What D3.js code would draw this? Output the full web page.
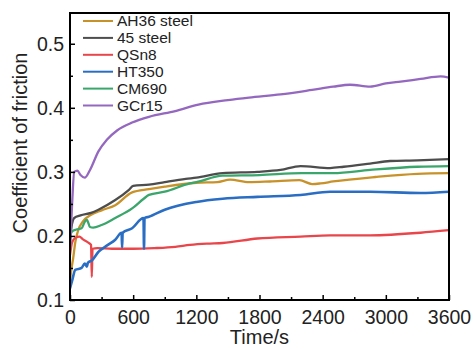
<!DOCTYPE html>
<html>
<head>
<meta charset="utf-8">
<script src="https://cdn.jsdelivr.net/npm/d3@7"></script>
<style>
  body { margin: 0; background: white; }
  text { font-family: "Liberation Sans", Arial, sans-serif; fill: #222; }
</style>
</head>
<body>
<svg id="graph"></svg>
<script>
var GRAPH_W = 473;
var GRAPH_H = 349;
var margin = {top: 13, right: 24, bottom: 49, left: 70};

var names = ["AH36 steel", "45 steel", "QSn8", "HT350", "CM690", "GCr15"];
var colors = ["#c8922a", "#4d4d4d", "#e8464b", "#2a6ec4", "#3aa66b", "#9468bf"];

var xTicks = [0, 600, 1200, 1800, 2400, 3000, 3600];
var yTicks = [0.1, 0.2, 0.3, 0.4, 0.5];

// [time (s), coefficient]
var ah36 = [[0,0.13],[15,0.15],[30,0.165],[50,0.19],[80,0.21],[120,0.222],[200,0.233],[300,0.24],
  [430,0.248],[590,0.268],[750,0.273],[900,0.277],[1200,0.283],[1400,0.284],[1520,0.288],[1700,0.284],
  [1900,0.285],[2180,0.287],[2300,0.281],[2380,0.282],[2500,0.285],[2900,0.292],[3300,0.297],[3600,0.298]];
var s45 = [[0,0.19],[15,0.215],[40,0.228],[100,0.232],[200,0.236],[270,0.241],[430,0.256],[560,0.272],
  [600,0.278],[750,0.28],[900,0.284],[1100,0.289],[1200,0.291],[1450,0.298],[1780,0.30],[2000,0.303],
  [2190,0.309],[2470,0.306],[2600,0.308],[2850,0.313],[3040,0.317],[3300,0.318],[3600,0.32]];
var qsn8 = [[0,0.17],[20,0.19],[50,0.197],[90,0.199],[120,0.195],[170,0.19],[200,0.186],[207,0.136],
  [214,0.18],[260,0.181],[400,0.18],[600,0.18],[800,0.181],[1000,0.183],[1140,0.186],[1300,0.188],
  [1450,0.189],[1780,0.196],[2190,0.199],[2470,0.201],[2850,0.201],[3330,0.205],[3600,0.209]];
var ht350 = [[0,0.118],[20,0.13],[50,0.147],[110,0.15],[140,0.157],[160,0.152],[170,0.158],[210,0.162],
  [270,0.175],[360,0.186],[430,0.194],[490,0.205],[495,0.182],[500,0.205],[590,0.212],[698,0.228],
  [703,0.18],[708,0.228],[750,0.23],[900,0.241],[1200,0.253],[1450,0.258],[1780,0.261],[2190,0.264],
  [2470,0.269],[2850,0.269],[3330,0.267],[3600,0.269]];
var cm690 = [[0,0.2],[20,0.207],[60,0.21],[110,0.212],[140,0.222],[160,0.225],[190,0.214],[220,0.213],
  [300,0.217],[430,0.228],[590,0.243],[700,0.258],[750,0.264],[900,0.269],[1140,0.282],[1200,0.284],
  [1450,0.294],[1800,0.295],[2200,0.298],[2500,0.298],[2850,0.303],[3300,0.308],[3600,0.309]];
var gcr15 = [[0,0.18],[20,0.25],[40,0.30],[70,0.302],[100,0.295],[140,0.291],[190,0.303],[270,0.332],
  [350,0.35],[450,0.365],[590,0.377],[750,0.386],[1000,0.395],[1220,0.405],[1500,0.412],[1700,0.416],
  [2000,0.421],[2300,0.428],[2500,0.433],[2660,0.436],[2850,0.433],[3000,0.438],[3140,0.441],
  [3330,0.445],[3520,0.449],[3600,0.447]];

var series = [ah36, s45, qsn8, ht350, cm690, gcr15];

var svg = d3.select("#graph")
  .attr("width", GRAPH_W)
  .attr("height", GRAPH_H);

svg.append("rect")
  .attr("width", "100%")
  .attr("height", "100%")
  .attr("fill", "white");

var x = d3.scaleLinear()
  .domain([0, 3600])
  .range([margin.left, GRAPH_W - margin.right]);

var y = d3.scaleLinear()
  .domain([0.1, 0.548])
  .range([GRAPH_H - margin.bottom, margin.top]);

var line = d3.line()
  .curve(d3.curveMonotoneX)
  .x(d => x(d[0]))
  .y(d => y(d[1]));

// clip so the lines stay inside the frame
svg.append("clipPath").attr("id", "clip")
  .append("rect")
  .attr("x", margin.left).attr("y", margin.top)
  .attr("width", x(3600) - x(0)).attr("height", y(0.1) - y(0.548));

series.forEach((s, i) => {
  svg.append("path")
    .datum(s)
    .attr("clip-path", "url(#clip)")
    .attr("fill", "none")
    .attr("stroke", colors[i])
    .attr("stroke-width", i == 3 ? 2.6 : 2.3)
    .attr("stroke-linejoin", "round")
    .attr("d", line);
});

// minor ticks
var xMinor = d3.range(300, 3600, 600);
var yMinor = [0.15, 0.25, 0.35, 0.45];

var xAxis = g => g
  .attr("transform", `translate(0,${y(0.1)})`)
  .call(d3.axisBottom(x).tickValues(xTicks).tickFormat(d3.format("d")).tickSize(-5).tickPadding(10))
  .call(g => g.select(".domain").remove());

var yAxis = g => g
  .attr("transform", `translate(${x(0)},0)`)
  .call(d3.axisLeft(y).tickValues(yTicks).tickFormat(d3.format(".1f")).tickSize(-5).tickPadding(6))
  .call(g => g.select(".domain").remove());

svg.append("g").call(xAxis)
  .call(g => g.selectAll("text").style("font-size", "19.5px").attr("fill", "#222"))
  .call(g => g.selectAll("line").attr("stroke-width", 1.5));
svg.append("g").call(yAxis)
  .call(g => g.selectAll("text").style("font-size", "19.5px").attr("fill", "#222"))
  .call(g => g.selectAll("line").attr("stroke-width", 1.5));

svg.append("g")
  .attr("transform", `translate(0,${y(0.1)})`)
  .call(d3.axisBottom(x).tickValues(xMinor).tickFormat("").tickSize(-3))
  .call(g => g.select(".domain").remove())
  .call(g => g.selectAll("line").attr("stroke-width", 1.5));

svg.append("g")
  .attr("transform", `translate(${x(0)},0)`)
  .call(d3.axisLeft(y).tickValues(yMinor).tickFormat("").tickSize(-3))
  .call(g => g.select(".domain").remove())
  .call(g => g.selectAll("line").attr("stroke-width", 1.5));

// frame
svg.append("rect")
  .attr("x", x(0)).attr("y", margin.top)
  .attr("width", x(3600) - x(0)).attr("height", y(0.1) - margin.top)
  .attr("fill", "none")
  .attr("stroke", "black")
  .attr("stroke-width", 2);

// axis titles
svg.append("text")
  .attr("x", (x(0) + x(3600)) / 2)
  .attr("y", 344)
  .attr("text-anchor", "middle")
  .style("font-size", "20px")
  .text("Time/s");

svg.append("text")
  .attr("transform", "translate(27,143) rotate(-90)")
  .attr("text-anchor", "middle")
  .style("font-size", "20px")
  .text("Coefficient of friction");

// legend
var legend = svg.selectAll(".leg")
  .data(names)
  .enter()
  .append("g")
  .attr("transform", (d, i) => `translate(83,${21 + i * 16.9})`);

legend.append("line")
  .attr("x1", 0).attr("x2", 30)
  .attr("stroke", (d, i) => colors[i])
  .attr("stroke-width", 2);

legend.append("text")
  .attr("x", 34)
  .attr("dy", "0.35em")
  .style("font-size", "15.5px")
  .text(d => d);
</script>
</body>
</html>
